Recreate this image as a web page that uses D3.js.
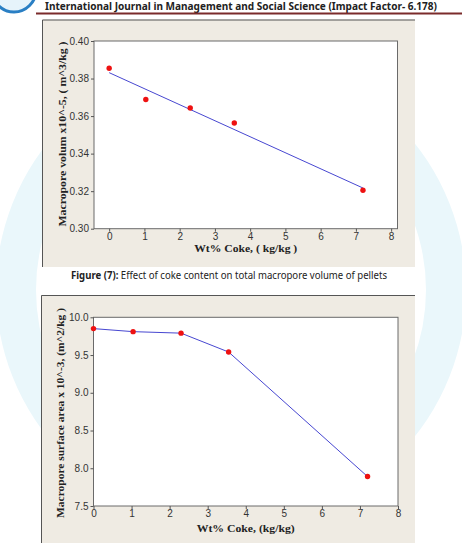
<!DOCTYPE html>
<html>
<head>
<meta charset="utf-8">
<script src="https://cdn.jsdelivr.net/npm/d3@7"></script>
<style>
  body { margin: 0; background: #fff; }
  svg { display: block; }
  .axis-title { font-family: 'Liberation Serif', 'Times New Roman', serif; font-weight: bold; font-size: 11px; fill: #222; }
</style>
</head>
<body>
<div id="page"></div>
<script>
// values
const cokeWt = [0, 1.04, 2.3, 3.55, 7.2]
const macroporeVolume = [0.3855, 0.3688, 0.3643, 0.3563, 0.3205]
const surfaceArea = [9.85, 9.81, 9.79, 9.54, 7.89]
const xTicks = [0, 1, 2, 3, 4, 5, 6, 7, 8]
const volumeTicks = [0.3, 0.32, 0.34, 0.36, 0.38, 0.4]
const areaTicks = [7.5, 8.0, 8.5, 9.0, 9.5, 10.0]

const width = 462
const height = 543

const svg = d3
  .select('#page')
  .append('svg')
  .attr('width', width)
  .attr('height', height)

// faint watermark ring of the journal seal
svg
  .append('circle')
  .attr('cx', 231)
  .attr('cy', 290)
  .attr('r', 215)
  .attr('fill', 'none')
  .attr('stroke', '#eaf7fb')
  .attr('stroke-width', 40)

// header
svg
  .append('circle')
  .attr('cx', 14)
  .attr('cy', -10)
  .attr('r', 22)
  .attr('fill', '#e6f3fb')
  .attr('stroke', '#2a7fc4')
  .attr('stroke-width', 3)
svg
  .append('text')
  .attr('x', 45)
  .attr('y', 10)
  .attr('textLength', 392)
  .attr('lengthAdjust', 'spacingAndGlyphs')
  .style('font-family', "'Noto Sans', sans-serif")
  .style('font-weight', 'bold')
  .style('font-size', '10.5px')
  .style('fill', '#222')
  .text('International Journal in Management and Social Science (Impact Factor- 6.178)')
svg
  .append('line')
  .attr('x1', 36)
  .attr('x2', width)
  .attr('y1', 13.5)
  .attr('y2', 13.5)
  .style('stroke', '#7b2b2b')
  .style('stroke-width', 2)

function drawPanel(opt) {
  const g = svg.append('g')
  // grey minitab frame, border only on top and left
  g.append('rect')
    .attr('x', opt.box[0])
    .attr('y', opt.box[1])
    .attr('width', opt.box[2] - opt.box[0])
    .attr('height', opt.box[3] - opt.box[1])
    .attr('fill', '#efebe3')
  g.append('path')
    .attr('d', `M${opt.box[0] + 0.5},${opt.box[3]}V${opt.box[1] + 0.5}H${opt.box[2]}`)
    .attr('fill', 'none')
    .attr('stroke', '#555')

  const x = d3.scaleLinear().domain(opt.xDomain).range([opt.plot[0], opt.plot[2]])
  const y = d3.scaleLinear().domain(opt.yDomain).range([opt.plot[3], opt.plot[1]])

  g.append('rect')
    .attr('x', opt.plot[0])
    .attr('y', opt.plot[1])
    .attr('width', opt.plot[2] - opt.plot[0])
    .attr('height', opt.plot[3] - opt.plot[1])
    .attr('fill', '#fff')
    .attr('stroke', '#6a6a6a')

  const xAxis = g
    .append('g')
    .attr('transform', `translate(0,${opt.plot[3]})`)
    .call(d3.axisBottom(x).tickValues(xTicks).tickSize(3).tickPadding(1).tickFormat(d3.format('d')))
  xAxis.select('.domain').remove()

  const yAxis = g
    .append('g')
    .attr('transform', `translate(${opt.plot[0]},0)`)
    .call(d3.axisLeft(y).tickValues(opt.yTicks).tickSize(3).tickPadding(2).tickFormat(opt.yFormat))
  yAxis.select('.domain').remove()

  g.selectAll('.tick line').attr('stroke', '#555')
  g.selectAll('.tick text')
    .style('font-family', "'Liberation Sans', Arial, sans-serif")
    .style('font-size', '10px')
    .attr('fill', '#333')

  if (opt.line) {
    g.append('path')
      .datum(opt.line)
      .attr('d', d3.line().x((d) => x(d[0])).y((d) => y(d[1])))
      .attr('fill', 'none')
      .attr('stroke', '#4747d1')
      .attr('stroke-width', 1)
  }

  g.selectAll('circle.pt')
    .data(cokeWt.map((c, i) => [c, opt.values[i]]))
    .join('circle')
    .attr('class', 'pt')
    .attr('cx', (d) => x(d[0]))
    .attr('cy', (d) => y(d[1]))
    .attr('r', 2.7)
    .attr('fill', '#ee1111')

  g.append('text')
    .attr('class', 'axis-title')
    .attr('x', (opt.plot[0] + opt.plot[2]) / 2)
    .attr('y', opt.xTitleY)
    .attr('text-anchor', 'middle')
    .attr('textLength', opt.xTitleLen)
    .attr('lengthAdjust', 'spacingAndGlyphs')
    .text(opt.xTitle)

  g.append('text')
    .attr('class', 'axis-title')
    .attr('transform', `translate(${opt.yTitleX},${opt.yTitleMid}) rotate(-90)`)
    .attr('text-anchor', 'middle')
    .attr('textLength', opt.yTitleLen)
    .attr('lengthAdjust', 'spacingAndGlyphs')
    .text(opt.yTitle)
}

// least squares fit line for the first panel
const mx = d3.mean(cokeWt)
const my = d3.mean(macroporeVolume)
const slope =
  d3.sum(cokeWt, (c, i) => (c - mx) * (macroporeVolume[i] - my)) / d3.sum(cokeWt, (c) => (c - mx) ** 2)
const intercept = my - slope * mx
const fitLine = d3.extent(cokeWt).map((c) => [c, intercept + slope * c])

drawPanel({
  box: [42, 19.5, 415, 267],
  plot: [94, 41, 397.5, 228.7],
  xDomain: [-0.43, 8.18],
  yDomain: [0.3, 0.4],
  yTicks: volumeTicks,
  yFormat: d3.format('.2f'),
  values: macroporeVolume,
  line: fitLine,
  xTitle: 'Wt% Coke, ( kg/kg )',
  xTitleY: 252,
  xTitleLen: 103,
  yTitle: 'Macropore volum x10^-5, ( m^3/kg )',
  yTitleX: 66,
  yTitleMid: 134,
  yTitleLen: 185,
})

// caption between the two figures
svg
  .append('text')
  .attr('x', 229)
  .attr('y', 278.5)
  .attr('text-anchor', 'middle')
  .attr('textLength', 316)
  .attr('lengthAdjust', 'spacingAndGlyphs')
  .style('font-family', "'Noto Sans', sans-serif")
  .style('font-size', '10px')
  .style('fill', '#222')
  .call((t) => {
    t.append('tspan').style('font-weight', 'bold').text('Figure (7):')
    t.append('tspan').text(' Effect of coke content on total macropore volume of pellets')
  })

drawPanel({
  box: [41, 295, 415, 543],
  plot: [93.5, 317.3, 398, 506],
  xDomain: [0, 8],
  yDomain: [7.5, 10],
  yTicks: areaTicks,
  yFormat: d3.format('.1f'),
  values: surfaceArea,
  line: cokeWt.map((c, i) => [c, surfaceArea[i]]),
  xTitle: 'Wt% Coke, (kg/kg)',
  xTitleY: 532,
  xTitleLen: 98,
  yTitle: 'Macropore surface area x 10^-3, (m^2/kg )',
  yTitleX: 64,
  yTitleMid: 413,
  yTitleLen: 210,
})
</script>
</body>
</html>
